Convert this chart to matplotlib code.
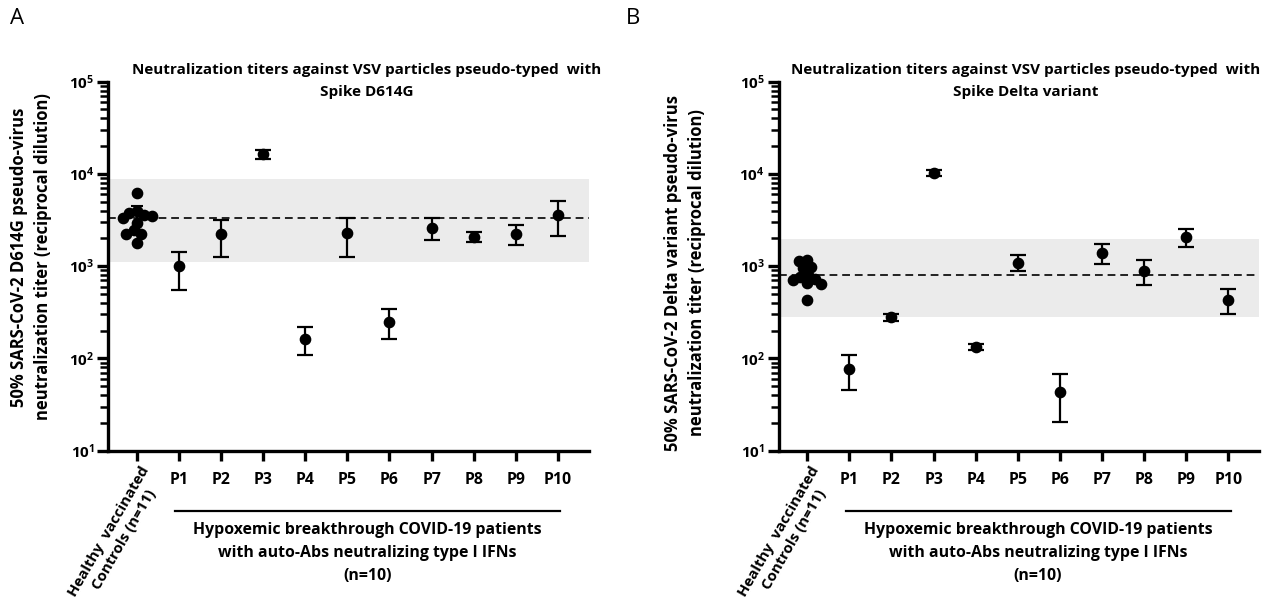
import numpy as np
import matplotlib
matplotlib.use("Agg")
import matplotlib.pyplot as plt
from matplotlib.ticker import LogLocator, FixedLocator, FixedFormatter, NullFormatter

plt.rcParams['font.family'] = ['Open Sans', 'DejaVu Sans']
plt.rcParams['mathtext.fontset'] = 'custom'
plt.rcParams['mathtext.rm'] = 'Open Sans'
plt.rcParams['mathtext.bf'] = 'Open Sans:bold'

# ---------------- data ----------------
patients = ["P1", "P2", "P3", "P4", "P5", "P6", "P7", "P8", "P9", "P10"]

# Panel A: Spike D614G
controls_A = [6240, 3950, 3780, 3600, 3480, 3340, 2950, 2455, 2240, 2240, 1790]
controls_A_mean = 3290
controls_A_err = (2420, 4470)
band_A = (1117, 8830)
pat_A = [1000, 2240, 16250, 163, 2270, 251, 2570, 2080, 2240, 3570]
pat_A_low = [550, 1270, 14600, 108, 1260, 164, 1900, 1850, 1700, 2100]
pat_A_high = [1430, 3200, 18400, 220, 3290, 340, 3290, 2340, 2780, 5070]

# Panel B: Spike Delta variant
controls_B = [1160, 1133, 975, 945, 800, 765, 735, 700, 650, 638, 428]
controls_B_mean = 798
band_B = (278, 1995)
pat_B = [76, 278, 10160, 134, 1096, 43.5, 1396, 897, 2080, 428]
pat_B_low = [45, 252, 9430, 123, 890, 20.6, 1069, 633, 1635, 302]
pat_B_high = [109, 302, 11000, 145, 1316, 67.6, 1747, 1153, 2560, 560]

titles = ["Neutralization titers against VSV particles pseudo-typed  with\nSpike D614G",
          "Neutralization titers against VSV particles pseudo-typed  with\nSpike Delta variant"]
ylabels = ["50% SARS-CoV-2 D614G pseudo-virus\nneutralization titer (reciprocal dilution)",
           "50% SARS-CoV-2 Delta variant pseudo-virus\nneutralization titer (reciprocal dilution)"]
control_label = "Healthy  vaccinated\nControls (n=11)"
group_label = "Hypoxemic breakthrough COVID-19 patients\nwith auto-Abs neutralizing type I IFNs\n(n=10)"
panel_letters = ["A", "B"]

W, H = 1281, 615
fig = plt.figure(figsize=(W / 100, H / 100), dpi=100)

FS = 11.0


def swarm_offsets(ax, x0, values, diam_px):
    """Compute beeswarm x offsets (data units) so markers don't overlap too much."""
    order = np.argsort(values)[::-1]
    pts = ax.transData.transform(np.column_stack([np.full(len(values), x0), values]))
    placed = []
    xs_px = np.zeros(len(values))
    for i in order:
        px0, py = pts[i]
        cands = [0.0]
        for (qx, qy) in placed:
            dy = py - qy
            if abs(dy) < diam_px:
                dx = np.sqrt(diam_px ** 2 - dy ** 2)
                cands += [qx - px0 + dx, qx - px0 - dx]
        cands = sorted(cands, key=lambda c: (abs(c), c))
        for c in cands:
            ok = all((px0 + c - qx) ** 2 + (py - qy) ** 2 >= diam_px ** 2 - 1e-6 for (qx, qy) in placed)
            if ok:
                break
        placed.append((px0 + c, py))
        xs_px[i] = px0 + c
    inv = ax.transData.inverted()
    return inv.transform(np.column_stack([xs_px, pts[:, 1]]))[:, 0]


def panel(left_px, controls, cmean, cerr, band, vals, lows, highs, title, ylabel,
          letter, letter_x, ylab_x, ylab_y, title_dx):
    x0f = left_px / W
    wf = 480.4 / W
    bf = 1 - 450.7 / H
    hf = (450.7 - 81.7) / H
    ax = fig.add_axes([x0f, bf, wf, hf])
    ax.set_yscale('log')
    ax.set_ylim(10, 1e5)
    ax.set_xlim(-0.674, 10.73)

    ax.axhspan(band[0], band[1], color='#ebebeb', lw=0, zorder=0)
    ax.axhline(cmean, color='#222222', ls=(0, (4, 2.5)), lw=1.4, zorder=1)

    xs = np.arange(1, len(vals) + 1)
    vals = np.array(vals, float)
    yerr = np.vstack([vals - np.array(lows), np.array(highs) - vals])
    ax.errorbar(xs, vals, yerr=yerr, fmt='o', color='black', ms=7.4,
                elinewidth=1.6, capsize=5.8, capthick=1.6, zorder=3)

    offs = swarm_offsets(ax, 0, np.array(controls, float), 8.0)
    ax.plot(offs, controls, 'o', color='black', ms=7.4, zorder=3, ls='none')
    if cerr is not None:
        ax.errorbar([0], [cmean], yerr=[[cmean - cerr[0]], [cerr[1] - cmean]],
                    fmt='none', ecolor='black', elinewidth=1.5, capsize=4.5,
                    capthick=1.5, zorder=2)

    for s in ['top', 'right']:
        ax.spines[s].set_visible(False)
    ax.spines['left'].set_linewidth(2.4)
    ax.spines['bottom'].set_linewidth(2.4)

    ax.yaxis.set_major_locator(FixedLocator([10, 100, 1000, 1e4, 1e5]))
    ax.yaxis.set_major_formatter(FixedFormatter([r'$\mathbf{10^{1}}$', r'$\mathbf{10^{2}}$',
                                                 r'$\mathbf{10^{3}}$', r'$\mathbf{10^{4}}$',
                                                 r'$\mathbf{10^{5}}$']))
    ax.yaxis.set_minor_locator(LogLocator(base=10, subs=np.arange(2, 10)))
    ax.yaxis.set_minor_formatter(NullFormatter())
    ax.tick_params(axis='y', which='major', length=8, width=2.4, labelsize=FS, pad=2)
    ax.tick_params(axis='y', which='minor', length=5.5, width=1.8)

    ax.set_xticks(np.arange(0, 11))
    ax.set_xticklabels([''] + patients, fontweight='bold', fontsize=11.4)
    ax.tick_params(axis='x', which='major', length=7, width=2.4, pad=8)
    ax.tick_params(axis='x', which='minor', length=0)

    # rotated control label
    ax.annotate(control_label, xy=(0, 0), xycoords=('data', 'axes fraction'),
                xytext=(3, -13), textcoords='offset pixels', rotation=60,
                ha='right', va='top', rotation_mode='anchor',
                fontsize=10.8, fontweight='bold', linespacing=1.3, multialignment='center')

    # group bracket
    trans = ax.get_xaxis_transform()
    ax.plot([0.92, 10.05], [-60 / 369.0, -60 / 369.0], transform=trans,
            color='black', lw=1.6, clip_on=False)
    ax.text(5.48, -71 / 369.0, group_label, transform=trans, ha='center', va='top',
            fontsize=11.4, fontweight='bold', linespacing=1.6)

    # title
    fig.text((left_px + 240.2 + title_dx) / W, 1 - 81 / H, title, ha='center', va='center',
             fontsize=FS, fontweight='bold', linespacing=1.75)
    # y label
    fig.text(ylab_x / W, 1 - ylab_y / H, ylabel, rotation=90, ha='center', va='center',
             fontsize=12, fontweight='bold', linespacing=1.45, multialignment='center')
    # panel letter
    fig.text(letter_x / W, 1 - 18 / H, letter, ha='left', va='center', fontsize=16)
    return ax


panel(108.3, controls_A, controls_A_mean, controls_A_err, band_A, pat_A, pat_A_low, pat_A_high,
      titles[0], ylabels[0], panel_letters[0], 10, 31, 257, 18)
panel(778.8, controls_B, controls_B_mean, None, band_B, pat_B, pat_B_low, pat_B_high,
      titles[1], ylabels[1], panel_letters[1], 626, 685, 273, 7)

fig.savefig("out.png", dpi=100)
